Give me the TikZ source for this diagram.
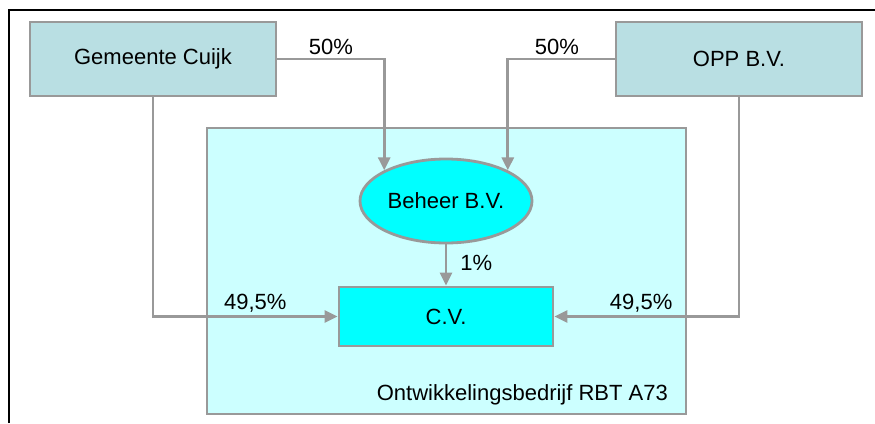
\documentclass[tikz,border=0pt]{standalone}
\usepackage{fontspec}
\setmainfont{Liberation Sans}
\usetikzlibrary{arrows.meta, positioning, calc, shapes.geometric}
\definecolor{orggray}{HTML}{999999}
\definecolor{orgblue}{HTML}{B9DFE3}
\definecolor{orgpale}{HTML}{CCFFFF}
\definecolor{orgcyan}{HTML}{00FFFF}

\begin{document}
\begin{tikzpicture}[
  x=1pt, y=-1pt,
  every node/.style={font=\fontsize{22}{26}\selectfont},
  owner/.style={rectangle, draw=orggray, fill=orgblue, line width=2.8pt, minimum width=246pt, minimum height=74pt, inner sep=0pt},
  entity/.style={rectangle, draw=orggray, fill=#1, line width=2.8pt, inner sep=0pt},
  edge/.style={-{Triangle[length=13pt,width=12pt]}, draw=orggray, line width=2.8pt},
  share/.style={inner sep=3pt},
]
\useasboundingbox (0,0) rectangle (875,423);

% Outer frame (top and left only)
\draw[black, line width=2pt] (9,423) -- (9,10) -- (875,10);

% Joint venture
\node[entity=orgpale, minimum width=479pt, minimum height=286pt] (rbt) at (446.5,271) {};
\node[anchor=east] (rbtlabel) at ($(rbt.south east)+(-16,-21)$) {Ontwikkelingsbedrijf RBT A73};

% Owners
\node[owner] (gem) at (153,59) {Gemeente Cuijk};
\node[owner] (opp) at (739,59) {OPP B.V.};

% Inner companies
\node[entity=orgcyan, ellipse, minimum width=172pt, minimum height=84pt] (beh) at (446,201) {Beheer B.V.};
\node[entity=orgcyan, minimum width=214pt, minimum height=59pt] (cv) at (446,316.5) {C.V.};

% Shares
\draw[edge] (gem.east) -| node[share, above, pos=0.25] {50\%} (beh.north west);
\draw[edge] (opp.west) -| node[share, above, pos=0.27] {50\%} (beh.north east);
\draw[edge] (beh.south) -- node[share, right, pos=0.45, xshift=10pt] {1\%} (cv.north);
\draw[edge] (gem.south) |- node[share, above, pos=0.777] {49,5\%} (cv.west);
\draw[edge] (opp.south) |- node[share, above, pos=0.765] {49,5\%} (cv.east);

\end{tikzpicture}
\end{document}
